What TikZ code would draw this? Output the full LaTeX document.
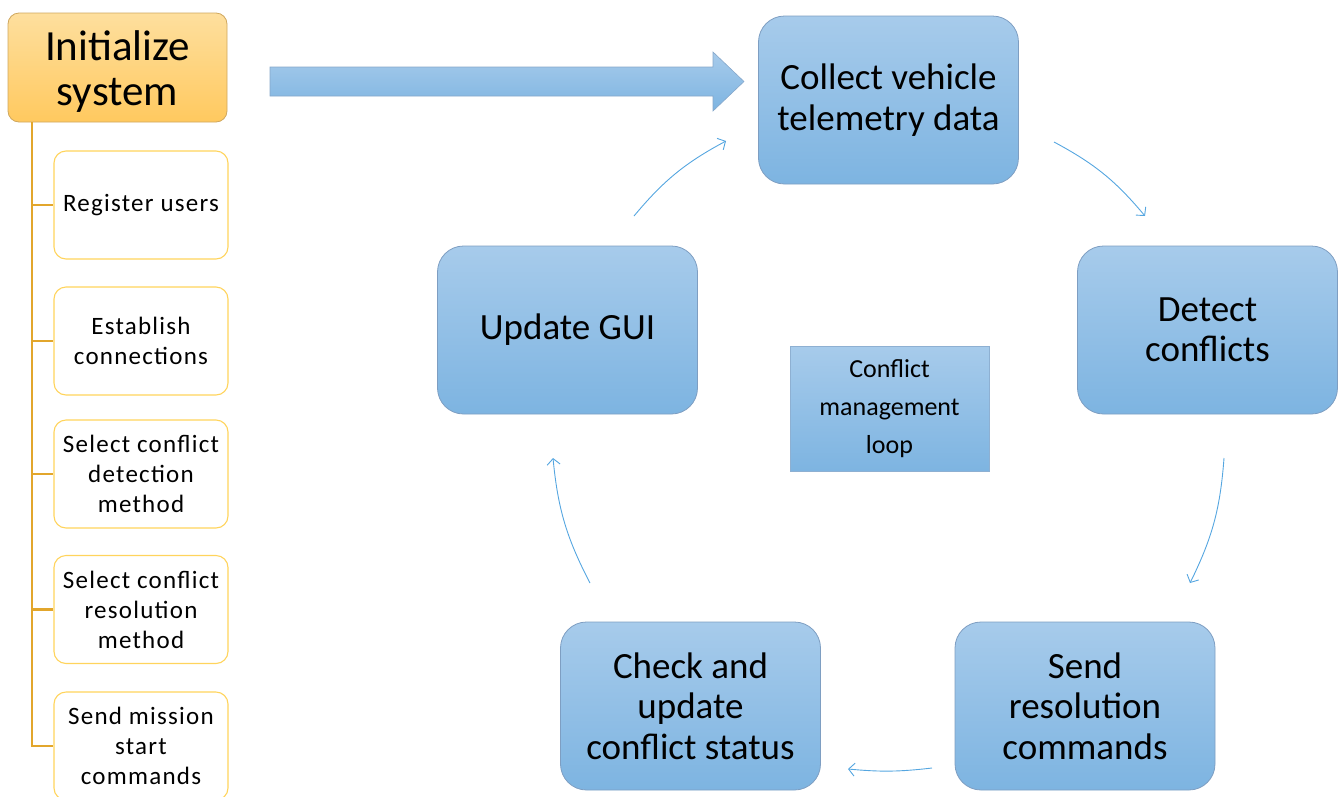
\documentclass[tikz,border=0pt]{standalone}
\usepackage{fontspec}
\setmainfont{Carlito}
\newfontfamily\childfont[LetterSpace=5]{Carlito}
\usetikzlibrary{arrows.meta}

\definecolor{bluetop}{HTML}{A7CBEB}
\definecolor{bluebot}{HTML}{7DB4E1}
\definecolor{blueedge}{HTML}{7E9EC2}
\definecolor{orgtop}{HTML}{FEDF9E}
\definecolor{orgbot}{HTML}{FFC95F}
\definecolor{orgedge}{HTML}{CFA75E}
\definecolor{childedge}{HTML}{FFD45C}
\definecolor{treeline}{HTML}{E2A62C}
\definecolor{loopline}{HTML}{55A6E0}

\tikzset{
  stepbox/.style={draw=blueedge, line width=0.8pt, rounded corners=26pt,
    top color=bluetop, bottom color=bluebot, align=center, inner sep=0pt,
    minimum width=260pt, minimum height=168pt,
    font=\fontsize{37}{40.5}\selectfont},
  initbox/.style={draw=orgedge, line width=0.8pt, rounded corners=11pt,
    top color=orgtop, bottom color=orgbot, align=center, inner sep=0pt,
    minimum width=219pt, minimum height=109pt,
    font=\fontsize{43}{45}\selectfont},
  childbox/.style={draw=childedge, line width=1.1pt, rounded corners=12pt,
    fill=white, align=center, inner sep=0pt,
    minimum width=174pt, minimum height=108pt,
    font=\childfont\fontsize{25}{30}\selectfont},
  loopbox/.style={draw=blueedge!60!bluetop, line width=0.6pt,
    top color=bluetop, bottom color=bluebot, align=center, inner sep=0pt,
    minimum width=199pt, minimum height=125pt,
    font=\fontsize{26}{38}\selectfont},
  bigarrow/.style={draw=blueedge!80!bluetop, line width=0.6pt,
    top color=bluetop, bottom color=bluebot},
  loopstep/.style={draw=loopline, line width=0.9pt,
    -{Straight Barb[length=6pt,width=13pt]}},
  branch/.style={draw=treeline, line width=2.2pt}
}

\begin{document}
\begin{tikzpicture}[x=1pt,y=-1pt]
\useasboundingbox (0,0) rectangle (1339,796);
\clip (0,0) rectangle (1339,796);

% set-up phase (the strut drops the title a little inside its box)
\node[initbox] (init) at (117.5,67.5) {\rule{0pt}{38pt}Initialize\\system};
\node[childbox] (c1) at (141,205) {Register users};
\node[childbox] (c2) at (141,341) {Establish\\connections};
\node[childbox] (c3) at (141,474) {Select conflict\\detection\\method};
\node[childbox] (c4) at (141,609.5) {Select conflict\\resolution\\method};
\node[childbox] (c5) at (141,746) {Send mission\\start\\commands};

\coordinate (trunk) at (32,0);
\draw[branch] (init.south -| trunk) |- (c5.west);
\foreach \c in {c1,c2,c3,c4}
  \draw[branch] (\c.west -| trunk) -- (\c.west);

% hand-over into the loop: a block arrow
\coordinate (flowtail) at (270,81.5);
\coordinate (flowtip) at (744,81.5);
\path[bigarrow] (flowtail) ++(0,-14.5) -- (713,67) -- (713,52) -- (flowtip)
  -- (713,111) -- (713,96) -- (270,96) -- cycle;

% conflict management loop
\node[stepbox] (collect) at (888.5,100) {Collect vehicle\\telemetry data};
\node[stepbox] (detect)  at (1207.5,330) {Detect\\conflicts};
\node[stepbox] (send)    at (1085,706) {Send\\resolution\\commands};
\node[stepbox] (check)   at (690.5,706) {Check and\\update\\conflict status};
\node[stepbox] (gui)     at (567.5,330) {Update GUI};
\node[loopbox] (label)   at (889.5,409) {Conflict\\management\\loop};

\coordinate (a1) at (1054,142);  \coordinate (b1) at (1145,216);
\coordinate (a2) at (1224,458);  \coordinate (b2) at (1190,583);
\coordinate (a3) at (932,768);   \coordinate (b3) at (848,769);
\coordinate (a4) at (590,583);   \coordinate (b4) at (553,458);
\coordinate (a5) at (634,216);   \coordinate (b5) at (726,141);

\draw[loopstep] (a1) to[bend left=11] (b1);
\draw[loopstep] (a2) to[bend left=11] (b2);
\draw[loopstep] (a3) to[bend left=6]  (b3);
\draw[loopstep] (a4) to[bend left=11] (b4);
\draw[loopstep] (a5) to[bend left=11] (b5);
\end{tikzpicture}
\end{document}
